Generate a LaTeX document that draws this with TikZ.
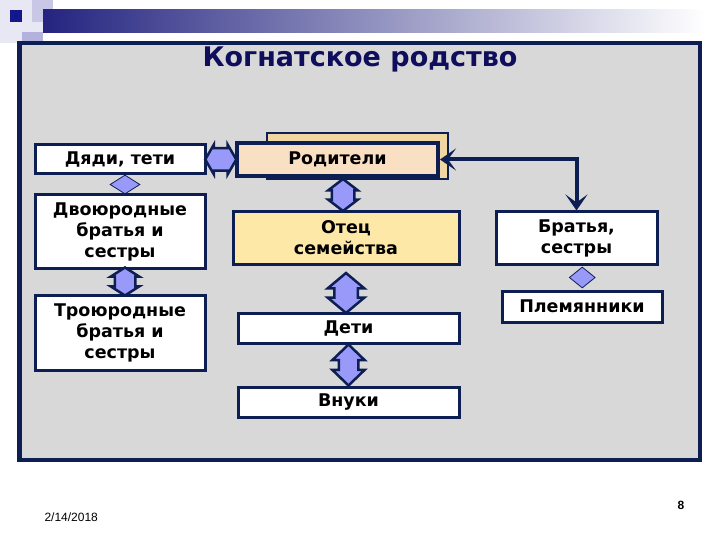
\documentclass[tikz,border=0pt]{standalone}
\usepackage{fontspec}
\setmainfont{DejaVu Sans}
\newfontfamily\footfont{Liberation Sans}
\usetikzlibrary{shapes.arrows,shapes.geometric,arrows.meta,calc}
\definecolor{navy}{RGB}{12,30,82}
\definecolor{titleblue}{RGB}{14,14,92}
\definecolor{panelgray}{RGB}{216,216,216}
\definecolor{lav}{RGB}{153,153,250}
\definecolor{barblue}{RGB}{36,36,128}
\definecolor{peach}{RGB}{250,224,194}
\definecolor{tan}{RGB}{240,214,160}
\definecolor{yell}{RGB}{253,232,168}
\definecolor{sq1}{RGB}{232,232,245}
\definecolor{sq2}{RGB}{200,200,230}
\definecolor{sq3}{RGB}{178,178,220}
\definecolor{sq4}{RGB}{22,22,140}
\begin{document}
\begin{tikzpicture}[x=1pt,y=-1pt,
  box/.style={draw=navy,line width=3pt,fill=white,inner sep=0pt,align=center,
    font=\fontsize{17.5}{21}\selectfont\bfseries,text=black},
  darrow/.style={double arrow,draw=navy,line width=2.5pt,fill=lav,inner xsep=0pt},
  smalldia/.style={diamond,draw=navy,line width=0.8pt,fill=lav,inner sep=0pt},
  link/.style={draw=navy,line width=4pt,
    {Stealth[length=16pt,width=22pt,inset=8pt]}-{Stealth[length=16pt,width=22pt,inset=8pt]}}
]
\useasboundingbox (0,0) rectangle (720,540);
\fill[white] (0,0) rectangle (720,540);
% decoration
\fill[sq1] (0,0) rectangle (43,43);
\fill[sq2] (32,0) rectangle (53,22);
\fill[sq3] (22,32) rectangle (43,42);
\shade[left color=barblue,right color=white] (43,10) rectangle (705,33);
\fill[sq4] (10,10) rectangle (22,22);
% panel
\draw[navy,line width=4.5pt,fill=panelgray] (19.5,43) rectangle (700,460);
% title
\node[font=\fontsize{27}{31}\selectfont\bfseries,text=titleblue] (title) at (360,59) {Когнатское родство};
% boxes
\node[box,minimum width=170pt,minimum height=29pt] (dyadi) at (120,159.5) {Дяди, тети};
\node[box,minimum width=170pt,minimum height=73pt] (dvoyu) at (120,231.5) {Двоюродные\\братья и\\сестры};
\node[box,minimum width=170pt,minimum height=75pt] (troyu) at (120,332.5) {Троюродные\\братья и\\сестры};
\node[draw=navy,line width=2pt,fill=tan,minimum width=181pt,minimum height=46pt,inner sep=0pt] (rodback) at (357.5,156) {};
\node[box,fill=peach,line width=4pt,minimum width=201pt,minimum height=33pt] (rod) at (337.5,159.5) {Родители};
\node[box,fill=yell,minimum width=226pt,minimum height=52pt] (otec) at (346,238) {Отец\\семейства};
\node[box,minimum width=221pt,minimum height=30pt] (deti) at (348.5,328) {Дети};
\node[box,minimum width=221pt,minimum height=30pt] (vnuki) at (348.5,402) {Внуки};
\node[box,minimum width=161pt,minimum height=52pt] (bratya) at (576.5,238) {Братья,\\сестры};
\node[box,minimum width=160pt,minimum height=31pt] (plem) at (582,306.5) {Племянники};
% double arrows between boxes
\node[darrow,inner ysep=10pt,double arrow head extend=3.5pt,double arrow tip angle=120,minimum height=31pt]
  (a1) at ($(dyadi.east)!0.5!(rod.west)$) {};
\node[darrow,rotate=90,inner ysep=10pt,double arrow head extend=3.5pt,double arrow tip angle=105,minimum height=32pt]
  (a2) at (343,195) {};
\node[darrow,rotate=90,inner ysep=10.5pt,double arrow head extend=6.5pt,double arrow tip angle=100,minimum height=40pt]
  (a3) at (346,293) {};
\node[darrow,rotate=90,inner ysep=8.5pt,double arrow head extend=6.5pt,double arrow tip angle=92,minimum height=41pt]
  (a4) at ($(deti.south)!0.5!(vnuki.north)$) {};
\node[darrow,rotate=90,inner ysep=9pt,double arrow head extend=4pt,double arrow tip angle=115,minimum height=28pt]
  (a5) at ($(dvoyu.south)!0.5!(troyu.north)+(5,0)$) {};
\node[smalldia,minimum width=30pt,minimum height=19pt] (d1) at ($(dyadi.south)!0.5!(dvoyu.north)+(5,0)$) {};
\node[smalldia,minimum width=26pt,minimum height=21pt] (d2) at ($(bratya.south)!0.5!(plem.north)+(3,0)$) {};
% connector Parents <-> Siblings
\draw[link] (rod.east) -- (rod.east -| bratya.north) -- (bratya.north);
% footer
\node[font=\footfont\fontsize{12}{14}\selectfont,anchor=west] (date) at (41,517) {2/14/2018};
\node[font=\footfont\fontsize{12}{14}\selectfont\bfseries] (page) at (681,505) {8};
\end{tikzpicture}
\end{document}
